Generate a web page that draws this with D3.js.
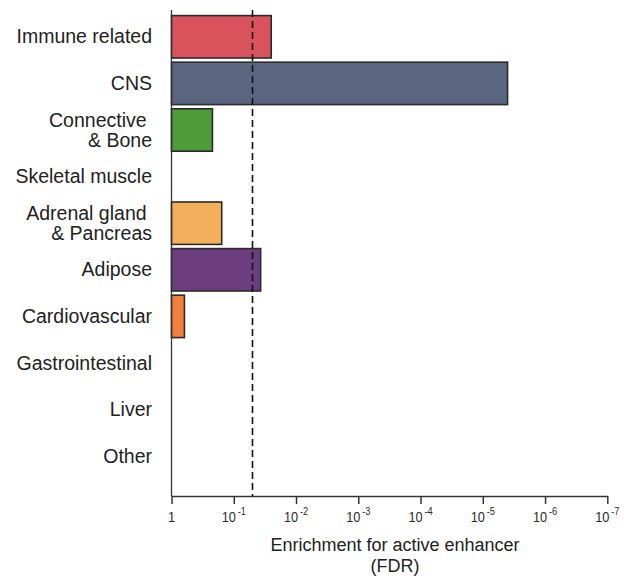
<!DOCTYPE html>
<html>
<head>
<meta charset="utf-8">
<script src="https://cdn.jsdelivr.net/npm/d3@7"></script>
<style>
  html, body { margin: 0; padding: 0; background: #fff; }
  svg { display: block; font-family: "Liberation Sans", Arial, sans-serif; }
</style>
</head>
<body>
<svg id="chart" width="624" height="580"></svg>
<script>
// Tissue groups, one label line per array entry
const categories = [
  ["Immune related"],
  ["CNS"],
  ["Connective ", "& Bone"],
  ["Skeletal muscle"],
  ["Adrenal gland ", "& Pancreas"],
  ["Adipose"],
  ["Cardiovascular"],
  ["Gastrointestinal"],
  ["Liver"],
  ["Other"]
];
// FDR of enrichment for active enhancers (null = not enriched)
const fdrValues = [0.025, 4e-6, 0.22, null, 0.156, 0.037, 0.62, null, null, null];
const barColors = ["#d9535d", "#5a6580", "#4f9a3b", null, "#f3af5c", "#6b3d7f", "#f17f3b", null, null, null];
const tickExponents = [0, -1, -2, -3, -4, -5, -6, -7];
const fdrThreshold = 0.05;

const svg = d3.select("#chart");
const keys = categories.map((c, i) => i);

const x = d3.scaleLog().domain([1, 1e-7]).range([171.5, 607.3]);
const y = d3.scaleBand().domain(keys).range([13.5, 479.5]).paddingInner(0.09).paddingOuter(0.045);
const axisY = 496;

// bars
svg.append("g").selectAll("rect")
  .data(keys.filter(i => fdrValues[i] != null))
  .join("rect")
  .attr("x", x(1))
  .attr("y", i => y(i))
  .attr("width", i => x(fdrValues[i]) - x(1))
  .attr("height", y.bandwidth())
  .attr("fill", i => barColors[i])
  .attr("stroke", "#2b2b2b")
  .attr("stroke-width", 1.6);

// significance threshold
svg.append("line")
  .attr("x1", x(fdrThreshold)).attr("x2", x(fdrThreshold))
  .attr("y1", 10).attr("y2", axisY)
  .attr("stroke", "#111").attr("stroke-width", 1.6)
  .attr("stroke-dasharray", "7,4");

// left axis line
svg.append("line")
  .attr("x1", x(1)).attr("x2", x(1))
  .attr("y1", 10).attr("y2", axisY)
  .attr("stroke", "#333").attr("stroke-width", 1.3);

// bottom axis
const xAxis = d3.axisBottom(x)
  .tickValues(tickExponents.map(e => Math.pow(10, e)))
  .tickSize(8)
  .tickSizeOuter(0)
  .tickFormat("");
const gx = svg.append("g").attr("transform", `translate(0,${axisY})`).call(xAxis);
gx.select(".domain").attr("stroke", "#333").attr("stroke-width", 1.5);
gx.selectAll(".tick line").attr("stroke", "#333").attr("stroke-width", 1.5);

// tick labels with superscript exponents (slightly condensed)
const tl = svg.append("g");
tickExponents.forEach(e => {
  const t = tl.append("text")
    .attr("transform", `translate(${x(Math.pow(10, e))},${axisY + 25.5}) scale(0.88,1)`)
    .attr("text-anchor", "middle")
    .attr("font-size", 14.5)
    .attr("fill", "#2a2a2a");
  if (e === 0) {
    t.text("1");
  } else {
    t.append("tspan").text("10");
    t.append("tspan").attr("dx", 2).attr("dy", -6.5).attr("font-size", 10.5).text(String(e));
  }
});

// category labels
const labels = svg.append("g");
keys.forEach(i => {
  const lines = categories[i];
  const cy = y(i) + y.bandwidth() / 2;
  const t = labels.append("text")
    .attr("x", 152)
    .attr("text-anchor", "end")
    .attr("font-size", 19.5)
    .attr("fill", "#222")
    .style("white-space", "pre");
  const lh = 20;
  lines.forEach((ln, k) => {
    t.append("tspan")
      .attr("x", 152)
      .attr("y", cy + 6.5 + (k - (lines.length - 1) / 2) * lh)
      .text(ln);
  });
});

// axis title
const title = svg.append("text")
  .attr("text-anchor", "middle")
  .attr("font-size", 18)
  .attr("fill", "#222");
title.append("tspan").attr("x", 395).attr("y", 551).text("Enrichment for active enhancer");
title.append("tspan").attr("x", 395).attr("y", 572).text("(FDR)");
</script>
</body>
</html>
